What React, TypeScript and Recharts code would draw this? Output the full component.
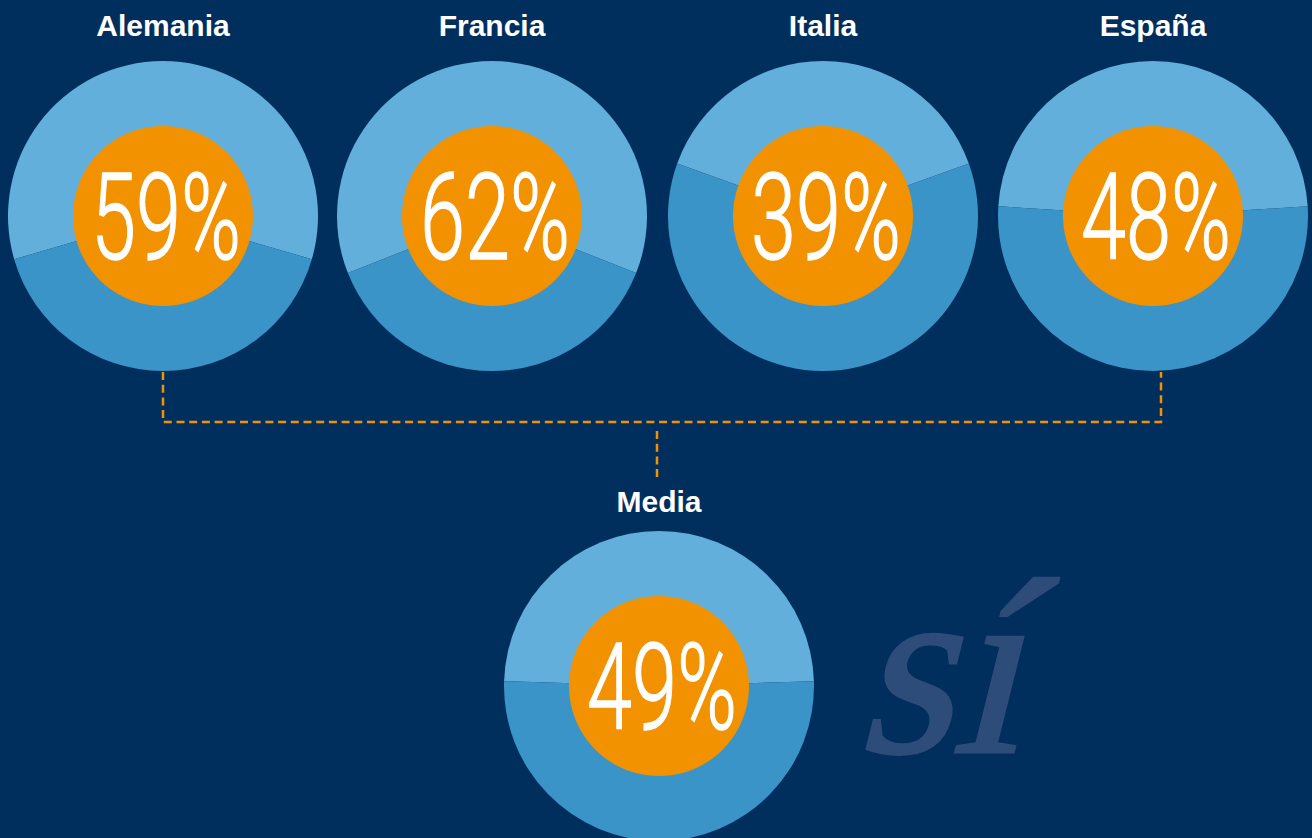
import React from 'react';
import { PieChart, Pie, Cell, Label, Customized } from 'recharts';

// porcentaje que responde "sí" por país
const countries = ['Alemania', 'Francia', 'Italia', 'España'];
const shares = [59, 62, 39, 48];
const averageLabel = 'Media';
const averageShare = 49;
const watermark = 'sí';

const W = 1312;
const H = 838;
const BG = '#002e5d';
const LIGHT = '#62afdb';
const DARK = '#3a94c8';
const ORANGE = '#f39200';
const WATERMARK = '#2e4c79';

const OUTER_R = 155;
const INNER_R = 90;

// layout (positions only)
const rowX = [163, 492, 823, 1153];
const rowY = 216;
const avgX = 659;
const avgY = 686;

const pctText = (text: string) => (props: any) => {
  const { cx, cy } = props.viewBox;
  return (
    <text
      x={cx + 3}
      y={cy + 43}
      textAnchor="middle"
      fill="#fff"
      stroke="#fff"
      strokeWidth={1.4}
      fontFamily="Roboto, 'Liberation Sans Narrow', sans-serif"
      fontWeight={300}
      fontSize={120}
      textLength={150}
      lengthAdjust="spacingAndGlyphs"
    >
      {text}
    </text>
  );
};

const titleText = (text: string, gap: number) => (props: any) => {
  const { cx, cy } = props.viewBox;
  return (
    <text
      x={cx}
      y={cy - OUTER_R - gap}
      textAnchor="middle"
      fill="#fff"
      fontFamily="'Liberation Sans', Arial, sans-serif"
      fontWeight={700}
      fontSize={30}
    >
      {text}
    </text>
  );
};

const renderDonut = (key: string, title: string, pct: number, cx: number, cy: number, gap: number) => {
  const slices = [
    { name: 'sí', value: pct },
    { name: 'no', value: 100 - pct },
  ];
  const start = 90 + pct * 1.8;
  return [
    <Pie
      key={key + '-outer'}
      data={slices}
      dataKey="value"
      cx={cx}
      cy={cy}
      innerRadius={0}
      outerRadius={OUTER_R}
      startAngle={start}
      endAngle={start - 360}
      stroke="none"
      isAnimationActive={false}
    >
      <Cell fill={LIGHT} />
      <Cell fill={DARK} />
      <Label content={titleText(title, gap)} />
    </Pie>,
    <Pie
      key={key + '-inner'}
      data={[{ name: title, value: 1 }]}
      dataKey="value"
      cx={cx}
      cy={cy}
      innerRadius={0}
      outerRadius={INNER_R}
      fill={ORANGE}
      stroke="none"
      isAnimationActive={false}
    >
      <Label content={pctText(pct + '%')} />
    </Pie>,
  ];
};

const Connectors = () => (
  <g>
    {/* faux italic: the serif italic face is not available */}
    <text
      transform="translate(856,752) skewX(-14)"
      fill={WATERMARK}
      stroke={WATERMARK}
      strokeWidth={3}
      fontFamily="'Liberation Serif', serif"
      fontWeight={400}
      fontSize={250}
      textLength={162}
      lengthAdjust="spacingAndGlyphs"
    >
      {watermark}
    </text>
    <path
      d={`M${rowX[0]},372 V422 H1161 V372 M${avgX - 2},431 V478`}
      fill="none"
      stroke={ORANGE}
      strokeWidth={2.5}
      strokeDasharray="8 4.7"
    />
  </g>
);

export default function App() {
  return (
    <div style={{ position: 'absolute', left: 0, top: 0, width: W, height: H, background: BG, overflow: 'hidden' }}>
      <PieChart width={W} height={H} margin={{ top: 0, right: 0, bottom: 0, left: 0 }}>
        <Customized component={Connectors} />
        {countries.map((c, i) => renderDonut('c' + i, c, shares[i], rowX[i], rowY, 25))}
        {renderDonut('avg', averageLabel, averageShare, avgX, avgY, 19)}
      </PieChart>
    </div>
  );
}
